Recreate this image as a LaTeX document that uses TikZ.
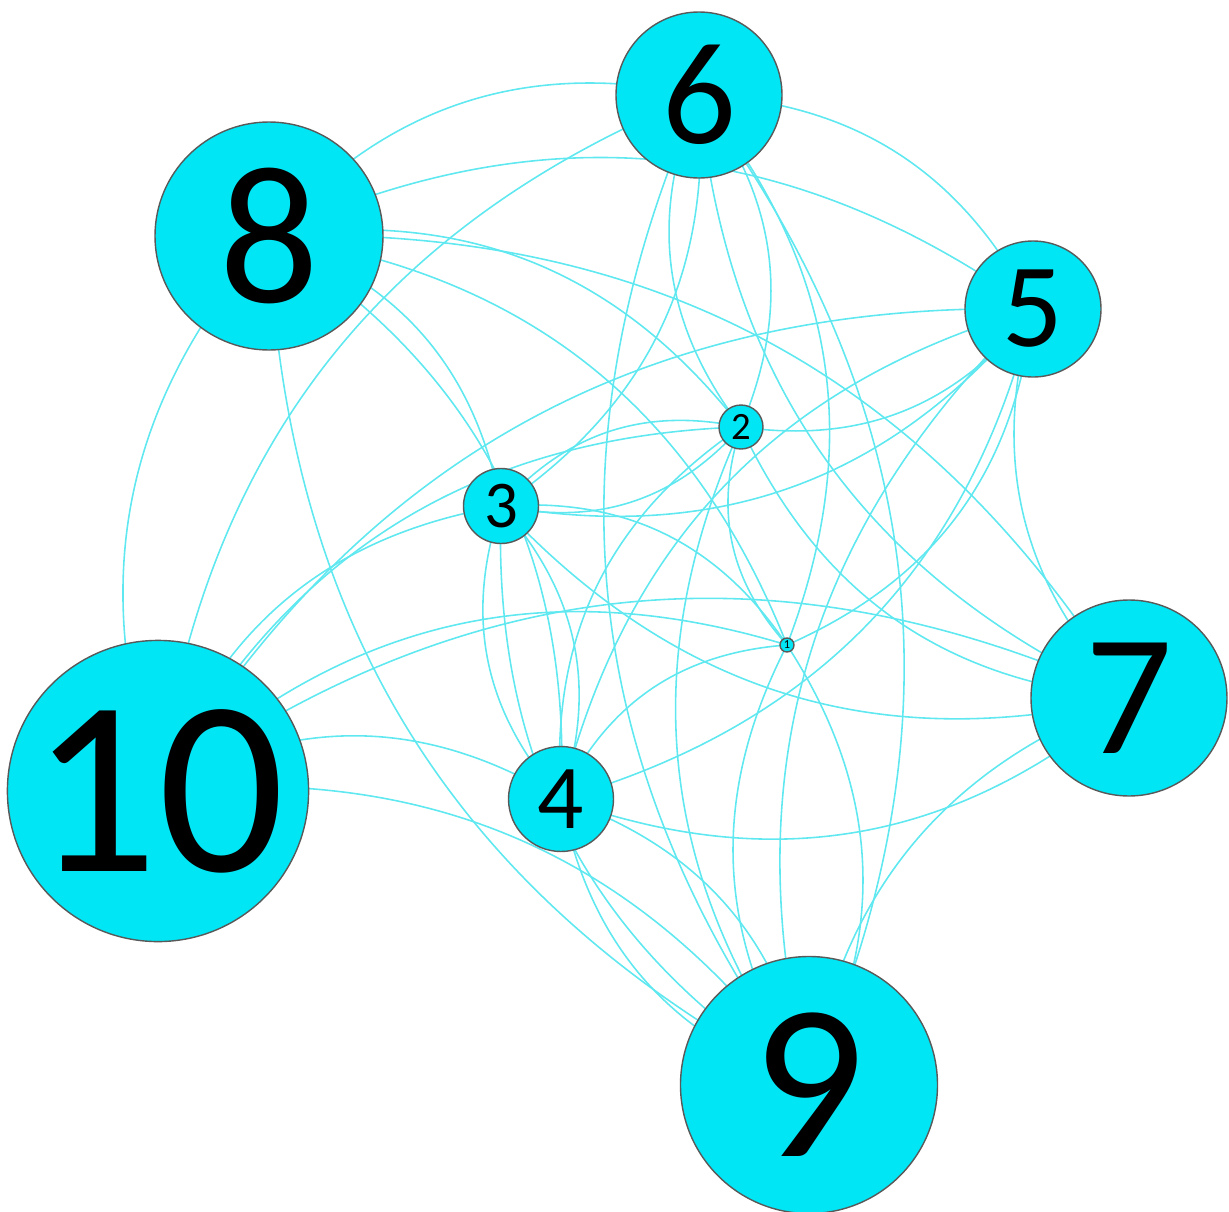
\documentclass[tikz,border=0pt]{standalone}
\usepackage{fontspec}
\setmainfont{Carlito}
\pgfdeclarelayer{edges}
\pgfsetlayers{edges,main}
\definecolor{nodecyan}{RGB}{0,230,245}
\definecolor{edgecyan}{RGB}{95,232,240}

\begin{document}
\begin{tikzpicture}[
    vertex/.style 2 args={
      circle, draw=black!65, fill=nodecyan, line width=0.4pt,
      inner sep=0pt, minimum size=#1, font=\fontsize{#2}{#2}\selectfont
    },
    link/.style={draw=edgecyan, line width=0.45pt, bend left=30},
  ]
  \useasboundingbox (0,0) rectangle (12.29,-12.12);

  % Vertices (size grows with the label)
  \node[vertex={0.14cm}{3.5}] (n1)  at (7.87,-6.45) {1};
  \node[vertex={0.44cm}{11}]  (n2)  at (7.41,-4.27) {2};
  \node[vertex={0.75cm}{19}]  (n3)  at (5.01,-5.06) {3};
  \node[vertex={1.05cm}{26}]  (n4)  at (5.61,-7.99) {4};
  \node[vertex={1.36cm}{34}]  (n5)  at (10.33,-3.09) {5};
  \node[vertex={1.66cm}{41.5}] (n6) at (6.99,-0.95) {6};
  \node[vertex={1.96cm}{49}]  (n7)  at (11.29,-6.98) {7};
  \node[vertex={2.28cm}{56}]  (n8)  at (2.69,-2.36) {8};
  \node[vertex={2.57cm}{63}]  (n9)  at (8.09,-10.85) {9};
  \node[vertex={2.86cm}{71}]  (n10) at (1.58,-7.91) {10};

  % Curved links, all bent the same way, kept under the vertices
  \begin{pgfonlayer}{edges}
    % out of 10
    \foreach \a/\b in {10/8, 10/6, 10/3, 10/2, 10/5, 10/1, 10/7, 10/4, 10/9}
      \draw[link] (n\a.center) to (n\b.center);
    % around 8
    \foreach \a/\b in {8/6, 8/5, 8/3, 8/4, 8/2, 8/7, 8/1, 9/8}
      \draw[link] (n\a.center) to (n\b.center);
    % around 6
    \foreach \a/\b in {6/5, 6/2, 2/6, 6/3, 6/1, 6/9, 9/6, 7/6}
      \draw[link] (n\a.center) to (n\b.center);
    % around 5
    \foreach \a/\b in {5/3, 5/2, 5/4, 4/5, 5/1, 9/5, 7/5}
      \draw[link] (n\a.center) to (n\b.center);
    % around 3 and 2
    \foreach \a/\b in {3/2, 2/3, 3/4, 4/3, 7/3, 3/1, 9/3, 4/2, 1/2, 9/2, 7/2}
      \draw[link] (n\a.center) to (n\b.center);
    % the rest
    \foreach \a/\b in {4/1, 4/9, 9/4, 7/4, 1/9, 9/1, 9/7}
      \draw[link] (n\a.center) to (n\b.center);
  \end{pgfonlayer}

\end{tikzpicture}
\end{document}
